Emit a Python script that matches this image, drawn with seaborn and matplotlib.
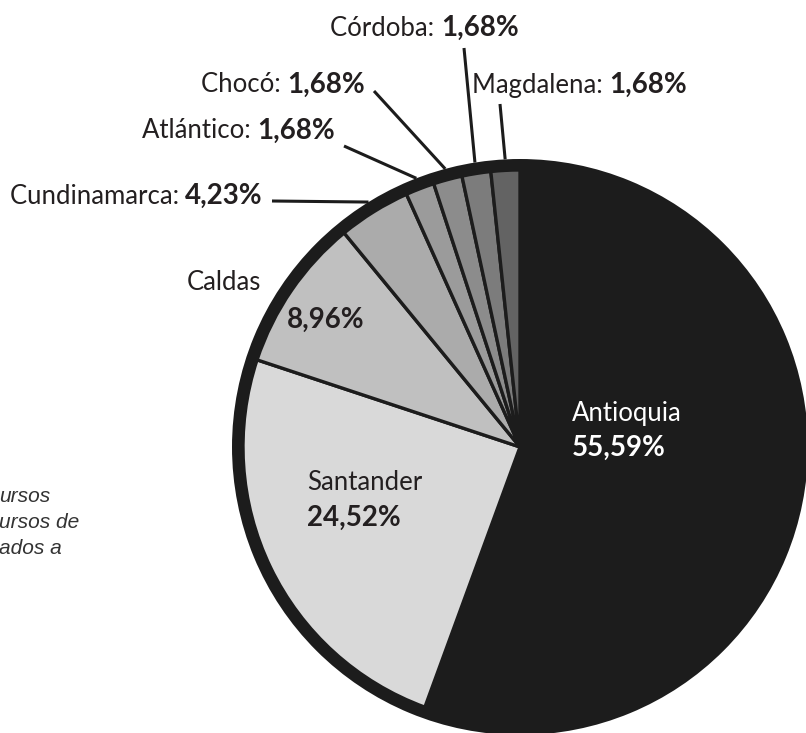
import matplotlib.pyplot as plt
import numpy as np
import seaborn as sns

sns.set_style("white")
plt.rcParams["font.family"] = ["Lato", "DejaVu Sans"]

# data
departments = ["Antioquia", "Santander", "Caldas", "Cundinamarca",
               "Atlántico", "Chocó", "Córdoba", "Magdalena"]
shares = [55.59, 24.52, 8.96, 4.23, 1.68, 1.68, 1.68, 1.68]
colors = ["#1c1c1c", "#d9d9d9", "#c0c0c0", "#ababab",
          "#9b9b9b", "#8c8c8c", "#7c7c7c", "#636363"]
caption_lines = ["ursos", "ursos de", "ados a"]

W, H = 806, 733
CX, CY = 520, 447          # pie centre (pixels from top-left)
R_OUT, R_IN = 288, 277
TXT = "#231f20"
FS_NAME, FS_VAL = 18.5, 20


def fmt(v):
    return f"{v:.2f}".replace(".", ",") + "%"


def Y(y):
    return H - y


fig = plt.figure(figsize=(W / 100, H / 100), dpi=100)
ax = fig.add_axes([0, 0, 1, 1])

# black outer ring, then the slices on top
ax.pie([1], radius=R_OUT, center=(CX, Y(CY)), colors=["#1c1c1c"],
       wedgeprops=dict(linewidth=0))
ax.pie(shares, radius=R_IN, center=(CX, Y(CY)), colors=colors,
       startangle=90, counterclock=False,
       wedgeprops=dict(edgecolor="#1c1c1c", linewidth=2.4))
ax.set_xlim(0, W)
ax.set_ylim(0, H)
ax.set_aspect("equal")
ax.axis("off")

fig.canvas.draw()
renderer = fig.canvas.get_renderer()


def label(x, y, name, value, anchor="left", color=TXT):
    if anchor == "left":
        t = ax.text(x, Y(y), name, ha="left", va="center", fontsize=FS_NAME, color=color)
        w = t.get_window_extent(renderer).width
        ax.text(x + w, Y(y), value, ha="left", va="center", fontsize=FS_VAL,
                fontweight="bold", color=color)
    else:
        t = ax.text(x, Y(y), value, ha="right", va="center", fontsize=FS_VAL,
                    fontweight="bold", color=color)
        w = t.get_window_extent(renderer).width
        ax.text(x - w, Y(y), name, ha="right", va="center", fontsize=FS_NAME, color=color)


# labels inside the big slices
ax.text(572, Y(413), departments[0], ha="left", va="center", fontsize=FS_NAME, color="white")
ax.text(572, Y(448), fmt(shares[0]), ha="left", va="center", fontsize=FS_VAL,
        fontweight="bold", color="white")
ax.text(307, Y(482), departments[1], ha="left", va="center", fontsize=FS_NAME, color=TXT)
ax.text(307, Y(518), fmt(shares[1]), ha="left", va="center", fontsize=FS_VAL,
        fontweight="bold", color=TXT)
ax.text(187, Y(282), departments[2], ha="left", va="center", fontsize=FS_NAME, color=TXT)
ax.text(287, Y(320), fmt(shares[2]), ha="left", va="center", fontsize=FS_VAL,
        fontweight="bold", color=TXT)

# outside labels with leader lines to the middle of each slice
cum = np.cumsum(shares)
mid_deg = 360 * (cum - np.array(shares) / 2) / 100
outside = {
    # index: (text x, text y, anchor, line start x, line start y)
    3: (263, 196, "right", 272, 201),
    4: (335, 131, "right", 344, 146),
    5: (365, 85, "right", 374, 91),
    6: (330, 28, "left", 464, 48),
    7: (472, 85, "left", 500, 104),
}
for i, (tx, ty, anchor, lx, ly) in outside.items():
    label(tx, ty, departments[i] + ": ", fmt(shares[i]), anchor=anchor)
    th = np.deg2rad(mid_deg[i])
    ex = CX + R_OUT * np.sin(th)
    ey = CY - R_OUT * np.cos(th)
    ax.plot([lx, ex], [Y(ly), Y(ey)], color="#1c1c1c", lw=2.2,
            solid_capstyle="butt")

# clipped caption at the left edge
for k, line in enumerate(caption_lines):
    ax.text(-1, Y(496 + 26 * k), line, ha="left", va="center", fontsize=15,
            style="italic", family="Liberation Sans", color="#333333")

fig.savefig("out.png", dpi=100)
